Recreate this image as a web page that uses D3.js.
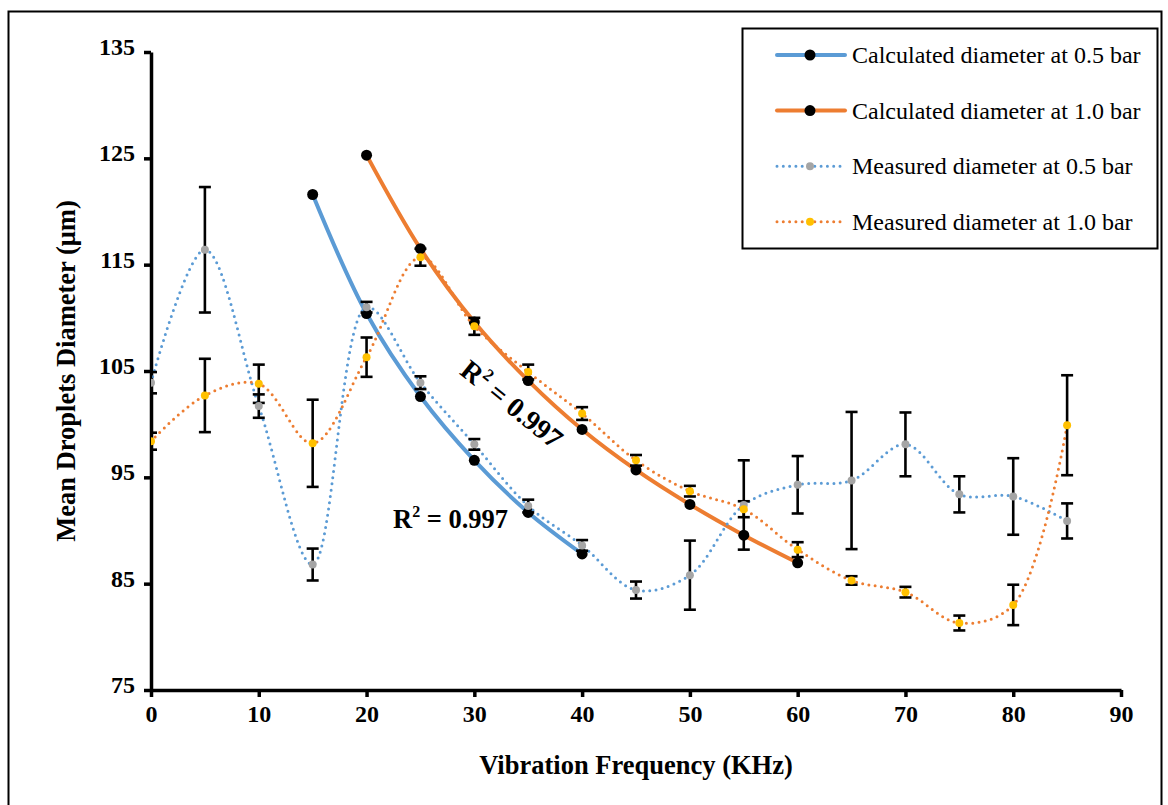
<!DOCTYPE html>
<html>
  <head>
    <meta charset="utf-8">
    <title>Droplet diameter</title>
    <script src="https://d3js.org/d3.v7.min.js"></script>
    <style type="text/css">
      body {
        margin: 0;
        background: #ffffff;
      }
      svg {
        display: block;
        font-family: 'Liberation Serif', 'Times New Roman', serif;
      }
    </style>
  </head>
  <body>
    <div class="chart"></div>
    <script type="text/javascript">
      // values
      var freq = [0, 5, 10, 15, 20, 25, 30, 35, 40, 45, 50, 55, 60, 65, 70, 75, 80, 85];
      var measured05 = [103.9, 116.4, 101.7, 86.8, 111.0, 103.9, 98.1, 92.3, 88.6, 84.4, 85.8, 92.4, 94.3, 94.7, 98.1, 93.4, 93.2, 90.9];
      var err05 = [1.0, 5.9, 1.1, 1.5, 0.5, 0.6, 0.5, 0.6, 0.5, 0.8, 3.25, 4.2, 2.7, 6.45, 3.0, 1.7, 3.6, 1.65];
      var measured10 = [98.4, 102.7, 103.8, 98.2, 106.3, 115.7, 109.2, 104.9, 101.0, 96.6, 93.7, 92.0, 88.2, 85.3, 84.2, 81.3, 83.0, 99.9];
      var err10 = [0.8, 3.45, 1.8, 4.1, 1.85, 0.8, 0.8, 0.7, 0.6, 0.5, 0.5, 0.75, 0.7, 0.4, 0.5, 0.7, 1.9, 4.7];

      var calcFreq05 = [15, 20, 25, 30, 35, 40];
      var calc05 = [121.6, 110.4, 102.6, 96.6, 91.7, 87.8];
      var calcFreq10 = [20, 25, 30, 35, 40, 45, 50, 55, 60];
      var calc10 = [125.3, 116.5, 109.6, 104.1, 99.5, 95.7, 92.45, 89.56, 86.96];

      var xTicks = [0, 10, 20, 30, 40, 50, 60, 70, 80, 90];
      var yTicks = [75, 85, 95, 105, 115, 125, 135];

      var legendLabels = ['Calculated diameter at 0.5 bar', 'Calculated diameter at 1.0 bar',
                          'Measured diameter at 0.5 bar', 'Measured diameter at 1.0 bar'];

      var blue = '#5B9BD5';
      var orange = '#ED7D31';
      var grey = '#A5A5A5';
      var gold = '#FFC000';

      function drawChart () {
        var width = 1168, height = 805;
        var mLeft = 151, mRight = 1121, mTop = 52, mBottom = 690;

        var svg = d3.select('.chart').append('svg')
                    .attr('width', width)
                    .attr('height', height);

        // outer frame
        svg.append('rect')
          .attr('x', 8.5).attr('y', 11.5)
          .attr('width', 1153).attr('height', 805)
          .attr('fill', 'none').attr('stroke', '#000').attr('stroke-width', 2);

        var x = d3.scaleLinear().domain([0, 90]).range([mLeft, mRight]);
        var y = d3.scaleLinear().domain([75, 135]).range([mBottom, mTop]);

        svg.append('clipPath').attr('id', 'plot')
          .append('rect')
            .attr('x', mLeft).attr('y', mTop - 20)
            .attr('width', mRight - mLeft + 10).attr('height', mBottom - mTop + 20);

        // axes
        var xAxis = svg.append('g')
          .attr('transform', 'translate(0,' + mBottom + ')')
          .call(d3.axisBottom(x).tickValues(xTicks).tickSize(7).tickSizeOuter(0));
        var yAxis = svg.append('g')
          .attr('transform', 'translate(' + mLeft + ',0)')
          .call(d3.axisLeft(y).tickValues(yTicks).tickSize(7).tickSizeOuter(0));

        [xAxis, yAxis].forEach(function(g){
          g.select('.domain').attr('stroke', '#000').attr('stroke-width', 3.5);
          g.selectAll('.tick line').attr('stroke', '#000').attr('stroke-width', 3.5);
          g.selectAll('.tick text')
            .attr('fill', '#000')
            .style('font-family', 'Liberation Serif')
            .style('font-size', '24px')
            .style('font-weight', 'bold');
        });
        xAxis.selectAll('.tick text').attr('y', 12).attr('dy', '0.85em');
        yAxis.selectAll('.tick text').attr('x', -16).attr('dy', '0.1em');

        svg.append('text')
          .attr('x', (mLeft + mRight) / 2).attr('y', 774)
          .attr('text-anchor', 'middle')
          .style('font-size', '26.5px').style('font-weight', 'bold')
          .text('Vibration Frequency (KHz)');

        svg.append('text')
          .attr('transform', 'translate(75,' + ((mTop + mBottom) / 2) + ') rotate(-90)')
          .attr('text-anchor', 'middle')
          .style('font-size', '26.5px').style('font-weight', 'bold')
          .text('Mean Droplets Diameter (\u03bcm)');

        var plot = svg.append('g').attr('clip-path', 'url(#plot)');

        var line = d3.line()
          .x(function(d){ return x(d[0]); })
          .y(function(d){ return y(d[1]); })
          .curve(d3.curveCatmullRom.alpha(0.5));

        var c05 = d3.zip(calcFreq05, calc05);
        var c10 = d3.zip(calcFreq10, calc10);
        var m05 = d3.zip(freq, measured05, err05);
        var m10 = d3.zip(freq, measured10, err10);

        // calculated curves
        plot.append('path').datum(c05).attr('d', line)
          .attr('fill', 'none').attr('stroke', blue).attr('stroke-width', 4);
        plot.append('path').datum(c10).attr('d', line)
          .attr('fill', 'none').attr('stroke', orange).attr('stroke-width', 4);

        [c05, c10].forEach(function(data){
          plot.append('g').selectAll('circle')
            .data(data).enter().append('circle')
              .attr('cx', function(d){ return x(d[0]); })
              .attr('cy', function(d){ return y(d[1]); })
              .attr('r', 5.5)
              .attr('fill', '#000');
        });

        // measured curves
        [[m05, blue], [m10, orange]].forEach(function(s){
          plot.append('path').datum(s[0]).attr('d', line)
            .attr('fill', 'none').attr('stroke', s[1])
            .attr('stroke-width', 3)
            .attr('stroke-linecap', 'round')
            .attr('stroke-dasharray', '0 6.3');
        });

        // error bars
        [m05, m10].forEach(function(data){
          var g = plot.append('g').selectAll('g')
            .data(data).enter().append('g');
          g.append('line')
            .attr('x1', function(d){ return x(d[0]); })
            .attr('x2', function(d){ return x(d[0]); })
            .attr('y1', function(d){ return y(d[1] - d[2]); })
            .attr('y2', function(d){ return y(d[1] + d[2]); })
            .attr('stroke', '#000').attr('stroke-width', 2.6);
          [-1, 1].forEach(function(sgn){
            g.append('line')
              .attr('x1', function(d){ return x(d[0]) - 6; })
              .attr('x2', function(d){ return x(d[0]) + 6; })
              .attr('y1', function(d){ return y(d[1] + sgn * d[2]); })
              .attr('y2', function(d){ return y(d[1] + sgn * d[2]); })
              .attr('stroke', '#000').attr('stroke-width', 2.6);
          });
        });

        [[m05, grey], [m10, gold]].forEach(function(s){
          plot.append('g').selectAll('circle')
            .data(s[0]).enter().append('circle')
              .attr('cx', function(d){ return x(d[0]); })
              .attr('cy', function(d){ return y(d[1]); })
              .attr('r', 4)
              .attr('fill', s[1]);
        });

        // R squared labels
        var r1 = svg.append('text')
          .attr('x', 393).attr('y', 528)
          .style('font-size', '26.5px').style('font-weight', 'bold');
        r1.append('tspan').text('R');
        r1.append('tspan').attr('dy', -11).style('font-size', '16px').text('2');
        r1.append('tspan').attr('dy', 11).text(' = 0.997');

        var r2 = svg.append('text')
          .attr('transform', 'translate(512,404) rotate(39)')
          .attr('text-anchor', 'middle')
          .attr('dy', '0.35em')
          .style('font-size', '28px').style('font-weight', 'bold');
        r2.append('tspan').text('R');
        r2.append('tspan').attr('dy', -12).style('font-size', '17px').text('2');
        r2.append('tspan').attr('dy', 12).text(' = 0.997');

        // legend
        var legend = svg.append('g');
        legend.append('rect')
          .attr('x', 742.5).attr('y', 28.5)
          .attr('width', 415).attr('height', 220)
          .attr('fill', '#fff').attr('stroke', '#000').attr('stroke-width', 2);

        var legendStyle = [
          {color: blue, dash: null, w: 4, marker: '#000', r: 5.5},
          {color: orange, dash: null, w: 4, marker: '#000', r: 5.5},
          {color: blue, dash: '0 6.3', w: 3, marker: grey, r: 4},
          {color: orange, dash: '0 6.3', w: 3, marker: gold, r: 4}
        ];
        var rows = legend.selectAll('.row')
          .data(legendLabels).enter().append('g')
            .attr('transform', function(d, i){ return 'translate(0,' + (55 + i * 55.6) + ')'; });
        rows.append('line')
          .attr('x1', 777).attr('x2', function(d, i){ return i < 2 ? 845 : 841; })
          .attr('stroke', function(d, i){ return legendStyle[i].color; })
          .attr('stroke-width', function(d, i){ return legendStyle[i].w; })
          .attr('stroke-linecap', 'round')
          .attr('stroke-dasharray', function(d, i){ return legendStyle[i].dash; });
        rows.append('circle')
          .attr('cx', 810)
          .attr('r', function(d, i){ return legendStyle[i].r; })
          .attr('fill', function(d, i){ return legendStyle[i].marker; });
        rows.append('text')
          .attr('x', 852).attr('dy', '0.33em')
          .style('font-size', '24px')
          .text(function(d){ return d; });
      }

      drawChart();
    </script>
  </body>
</html>
